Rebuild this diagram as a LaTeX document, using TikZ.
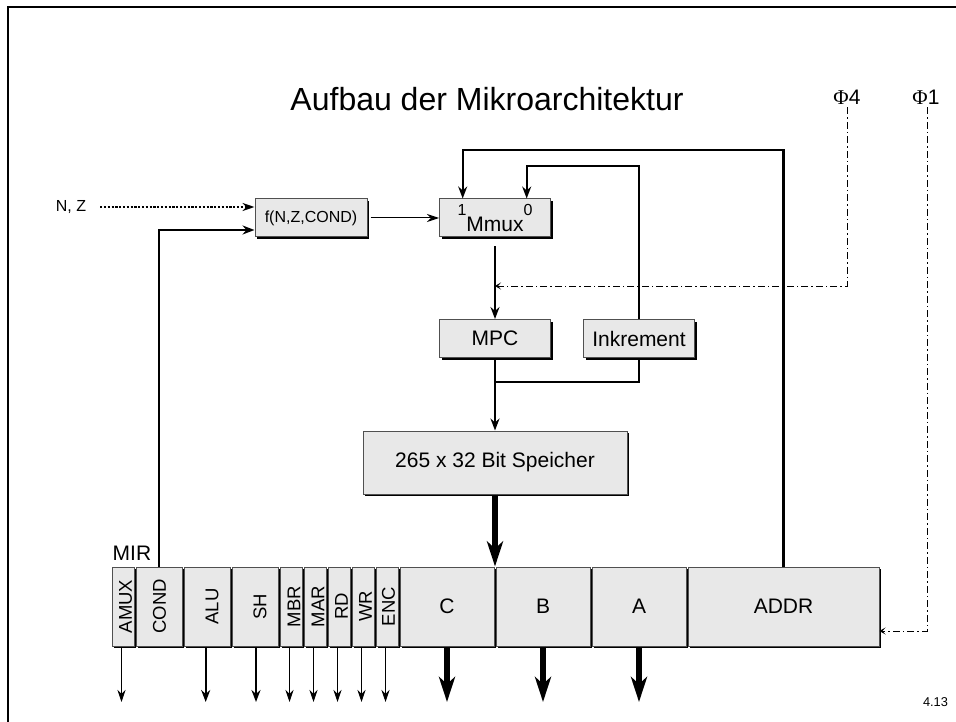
\documentclass[tikz,border=0pt]{standalone}
\usepackage{fontspec}
\setmainfont{Liberation Sans}
\newfontfamily\phifont{Liberation Serif}
\usetikzlibrary{arrows.meta,shadows}
\definecolor{cellgray}{HTML}{E8E8E8}
\definecolor{edge}{HTML}{505050}
\newcommand{\fs}[1]{\fontsize{#1}{#1}\selectfont}
\newcommand{\muxlabel}{\smash{\raisebox{2pt}{\fs{16}1}}\smash{\raisebox{-14pt}{Mmux}}\smash{\raisebox{2pt}{\fs{16}0}}}
\newcommand{\vlab}[2]{\hspace*{#1pt}\rotatebox{90}{#2}}
\begin{document}
\begin{tikzpicture}[x=1pt,y=-1pt,
  box/.style={draw=edge,line width=1pt,fill=cellgray,inner sep=0pt,minimum height=38pt,align=center,font=\fs{21},
    drop shadow={shadow xshift=2pt,shadow yshift=-2pt,fill=black,opacity=1}},
  cell/.style={box,minimum height=79pt},
  vcell/.style={cell,font=\fs{18.5}},
  slim/.style={-{Stealth[length=12pt,width=8pt,inset=4pt]},line width=1pt},
  arr/.style={-{Stealth[length=12pt,width=9pt,inset=4pt]},line width=2.2pt},
  fat/.style={-{Stealth[length=25pt,width=16pt,inset=7pt]},line width=5.6pt},
  clock/.style={-{Stealth[length=6pt,width=7pt,inset=3pt]},line width=1pt,dash pattern=on 7pt off 3pt on 1.5pt off 3pt}]
  \useasboundingbox (0,0) rectangle (956,722);
  \fill[white] (0,0) rectangle (956,722);
  \draw[line width=2.4pt] (8,722) -- (8,7) -- (956,7);
  \node[font=\fs{32}] (title) at (487,99) {Aufbau der Mikroarchitektur};
  \node[font=\fs{21},inner sep=0pt] (phi4) at (847,97) {{\phifont Φ}4};
  \node[font=\fs{21},inner sep=0pt] (phi1) at (926,97) {{\phifont Φ}1};
  \node[font=\fs{16},inner sep=0pt,outer xsep=14pt] (nz) at (71,207) {N, Z};
  \node[box,font=\fs{16},minimum width=112pt] (fnz) at (311,218) {f(N,Z,COND)};
  \node[box,minimum width=111pt] (mmux) at (495,218) {\muxlabel};
  \node[box,minimum width=111pt] (mpc) at (495,338.5) {MPC};
  \node[box,minimum width=111pt] (ink) at (639,338.5) {Inkrement};
  \node[box,minimum width=264pt,minimum height=63pt] (mem) at (495,462.5) {265 x 32 Bit Speicher};
  \node[font=\fs{21},inner sep=0pt,anchor=west] (mir) at (112.5,553) {MIR};
  \node[vcell,minimum width=22pt] (amux) at (123,606.5) {\vlab{5}{AMUX}};
  \node[vcell,minimum width=46pt] (cond) at (159,606.5) {\vlab{1}{COND}};
  \node[vcell,minimum width=46pt] (alu) at (207,606.5) {\vlab{10}{ALU}};
  \node[vcell,minimum width=46pt] (sh) at (255,606.5) {\vlab{10}{SH}};
  \node[vcell,minimum width=22pt] (mbr) at (291,606.5) {\vlab{6}{MBR}};
  \node[vcell,minimum width=22pt] (mar) at (315,606.5) {\vlab{6}{MAR}};
  \node[vcell,minimum width=22pt] (rd) at (339,606.5) {\vlab{5}{RD}};
  \node[vcell,minimum width=22pt] (wr) at (363,606.5) {\vlab{5}{WR}};
  \node[vcell,minimum width=22pt] (enc) at (387,606.5) {\vlab{3}{ENC}};
  \node[cell,minimum width=94pt] (c) at (447,606.5) {C};
  \node[cell,minimum width=94pt] (b) at (543,606.5) {B};
  \node[cell,minimum width=94pt] (a) at (639,606.5) {A};
  \node[cell,minimum width=191pt] (addr) at (783.5,606.5) {ADDR};
  \coordinate (bot) at (0,702);
  \coordinate (tapclk) at (495,286);
  \coordinate (tapink) at (495,382);
  \coordinate (looptop) at (462.7,150);
  \coordinate (inktop) at (526.7,166);
  \draw[slim,line width=2.2pt,dash pattern=on 2.2pt off 1.6pt] (nz.east) -- (nz.east -| fnz.west);
  \draw[arr] (cond.north) |- ([yshift=-12pt]fnz.west);
  \draw[slim,shorten <=3pt] (fnz) -- (mmux);
  \draw[arr] (addr.north) |- (looptop) -- (looptop |- mmux.north);
  \draw[arr] (ink.north) |- (inktop) -- (inktop |- mmux.north);
  \draw[arr,shorten <=9pt] (mmux.south) -- (mpc.north);
  \draw[arr,-] (mpc.south) -- (tapink);
  \draw[arr] (tapink) -- (mem.north);
  \draw[arr,-] (ink.south) |- (tapink);
  \draw[fat] (mem.south) -- (mem.south |- c.north);
  \draw[clock,shorten <=3pt] (phi4.south -| 847,0) |- (tapclk);
  \draw[clock,shorten <=3pt] (phi1.south -| 927,0) |- ([yshift=-24.5pt]addr.east);
  \foreach \n in {amux,mbr,mar,rd,wr,enc}
    \draw[slim] ([xshift=-1.5pt]\n.south) -- ([xshift=-1.5pt]\n.south |- bot);
  \foreach \n/\d in {alu/-1.3,sh/1}
    \draw[arr] ([xshift=\d pt]\n.south) -- ([xshift=\d pt]\n.south |- bot);
  \foreach \n in {c,b,a}
    \draw[fat] (\n.south) -- (\n.south |- bot);
  \node[font=\fs{12.8},inner sep=0pt] (page) at (935.5,702.5) {4.13};
\end{tikzpicture}
\end{document}
